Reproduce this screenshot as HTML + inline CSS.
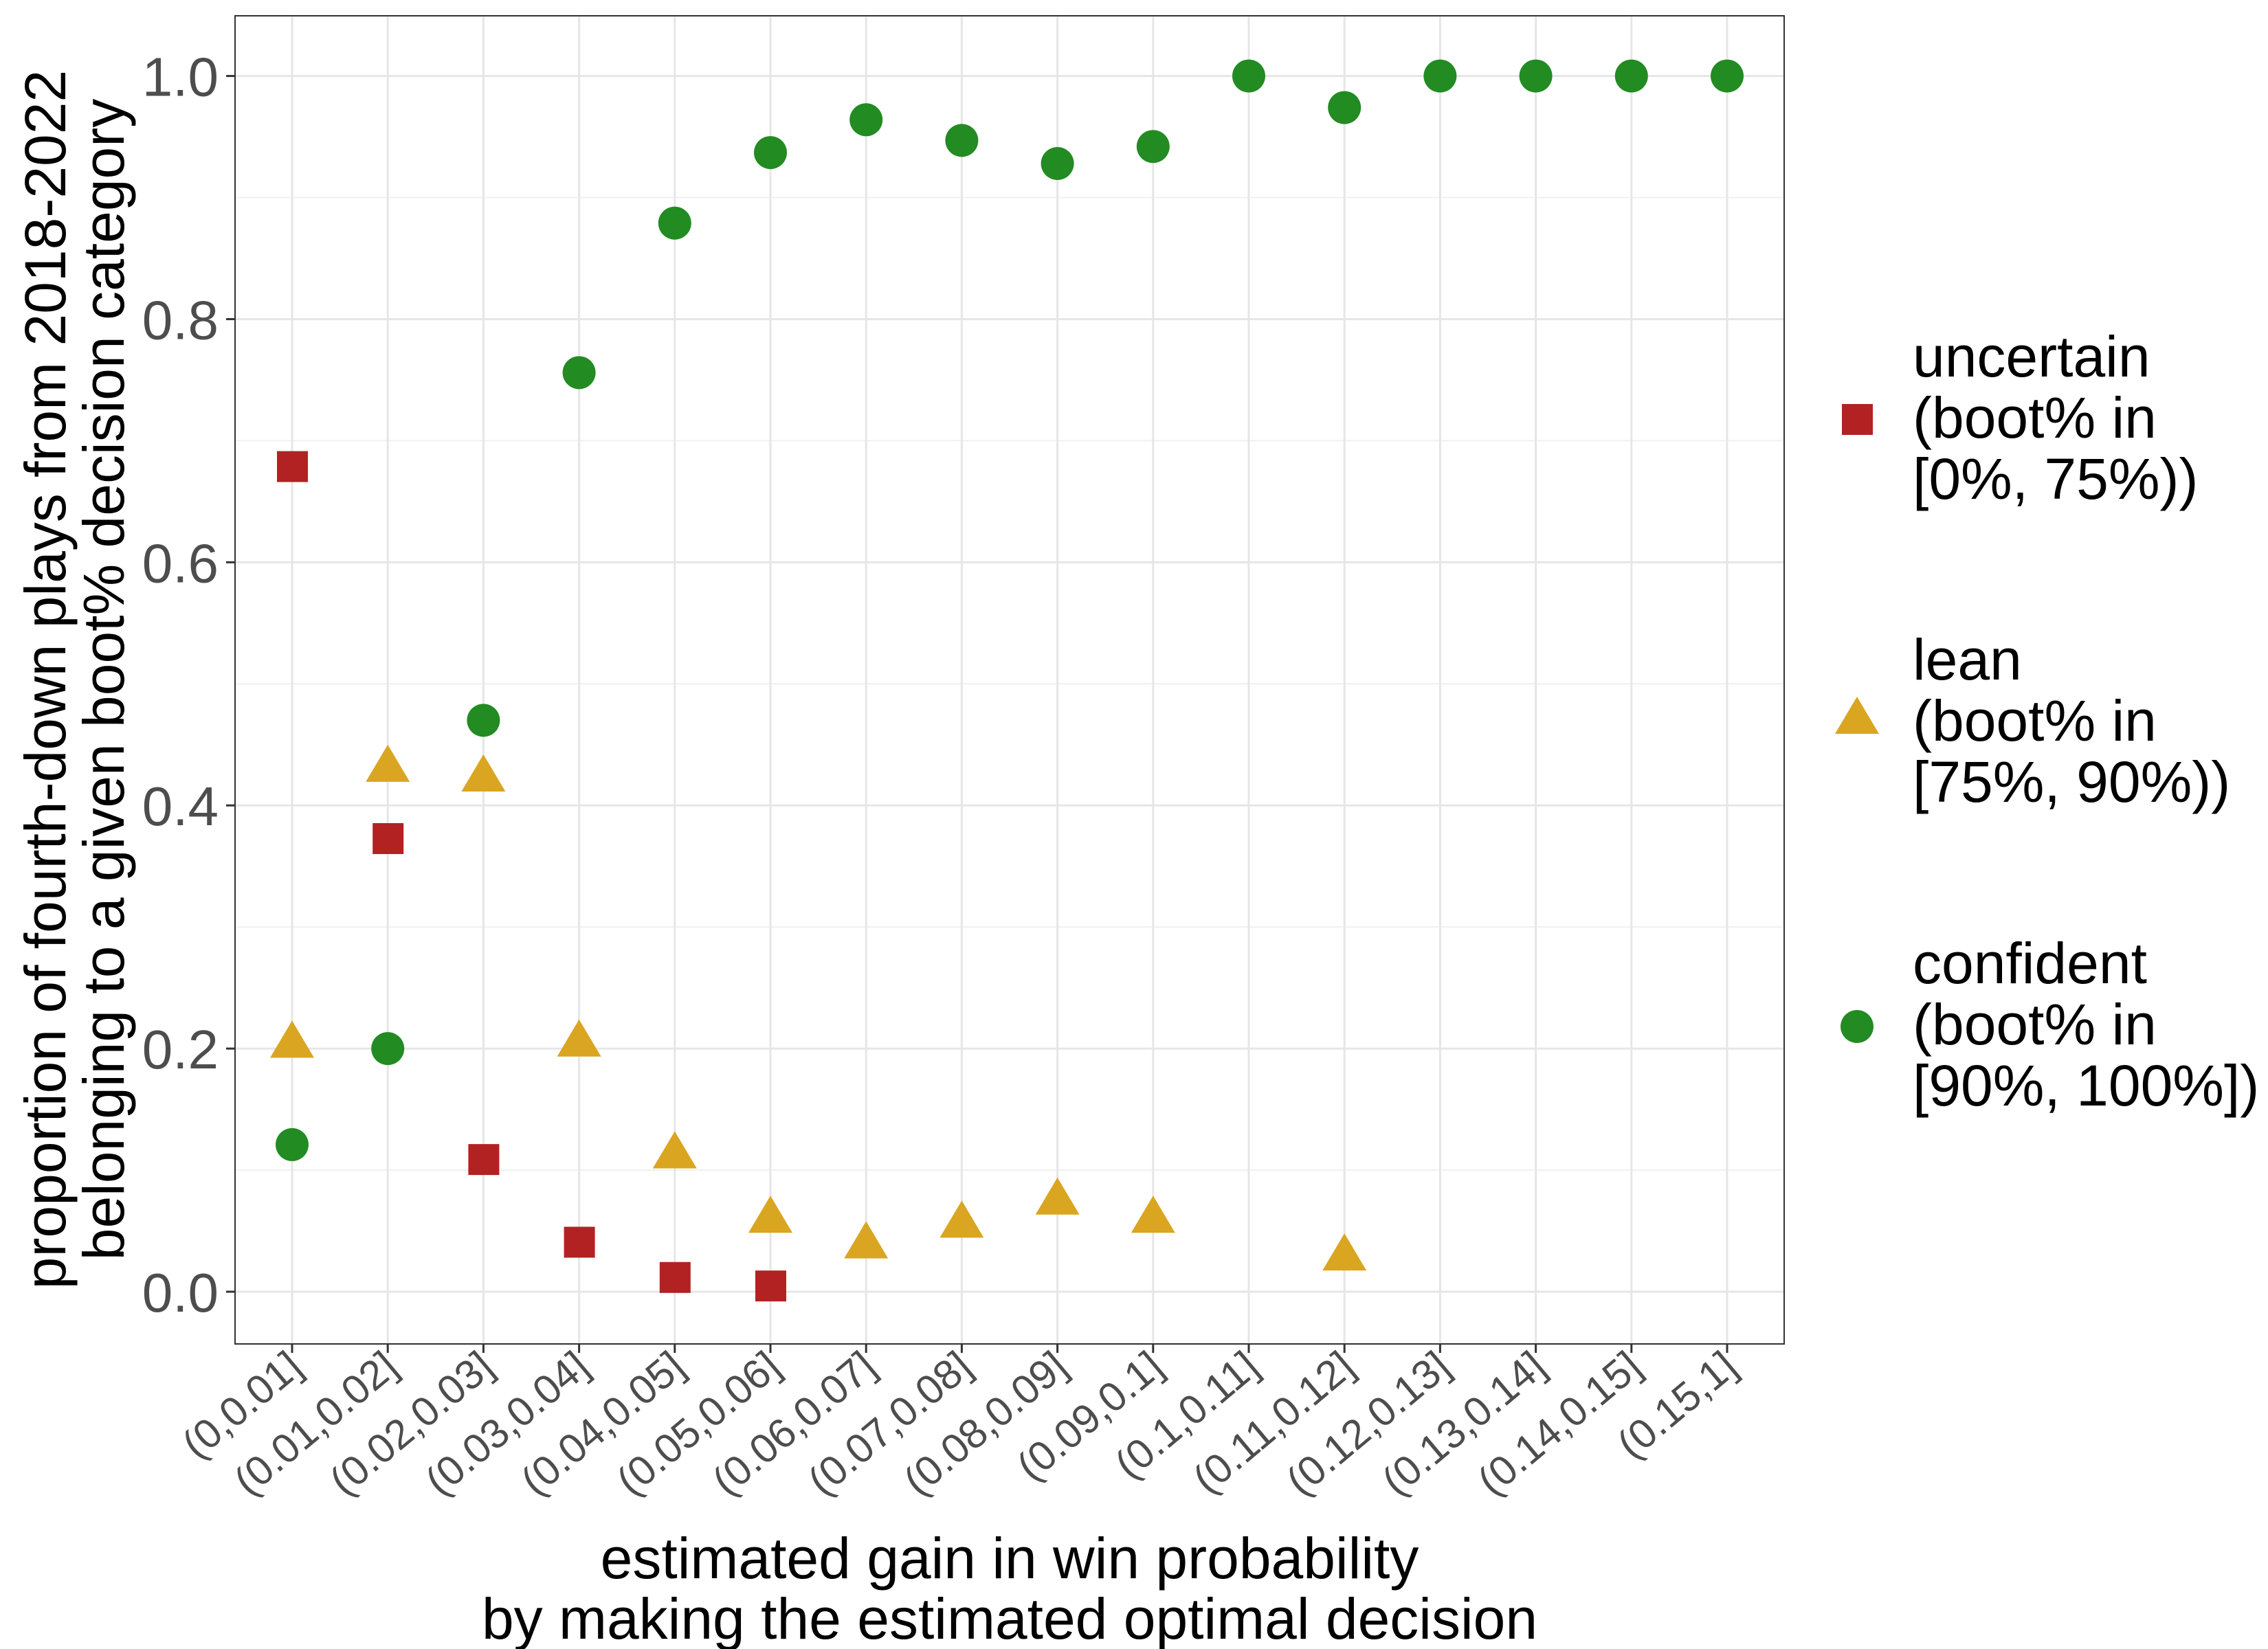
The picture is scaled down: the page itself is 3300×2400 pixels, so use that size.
<!DOCTYPE html>
<html><head><meta charset="utf-8"><style>
html,body{margin:0;padding:0;background:#fff;}
svg{display:block;font-family:"Liberation Sans",Arial,sans-serif;}
</style></head><body>
<svg id="chart" width="3300" height="2400" viewBox="0 0 3300 2400" xmlns="http://www.w3.org/2000/svg">
<rect x="0" y="0" width="3300" height="2400" fill="#fff"/>
<g id="grid"></g>
<g id="ticks"></g>
<g id="marks"></g>
<rect x="342" y="23" width="2254" height="1933" fill="none" stroke="#333" stroke-width="2"/>
<g font-size="84" fill="#000" text-anchor="middle">
<text transform="translate(95,989) rotate(-90)">proportion of fourth-down plays from 2018-2022</text>
<text transform="translate(180,989) rotate(-90)">belonging to a given boot% decision category</text>
</g>
<g font-size="84" fill="#000" text-anchor="middle">
<text x="1469" y="2297">estimated gain in win probability</text>
<text x="1469" y="2385">by making the estimated optimal decision</text>
</g>
<g font-size="84" fill="#000">
<rect x="2680" y="588" width="45" height="45" fill="#b22222"/>
<g>
<text x="2783" y="548">uncertain</text><text x="2783" y="637">(boot% in</text><text x="2783" y="726">[0%, 75%))</text></g>
<polygon points="2702,1014 2734,1068 2670,1068" fill="#daa520"/>
<g>
<text x="2783" y="989">lean</text><text x="2783" y="1078">(boot% in</text><text x="2783" y="1167">[75%, 90%))</text></g>
<circle cx="2702" cy="1494" r="24" fill="#228b22"/>
<g>
<text x="2783" y="1431">confident</text><text x="2783" y="1520">(boot% in</text><text x="2783" y="1609">[90%, 100%])</text></g>
</g>
</svg>
<script>
const categories=["(0,0.01]","(0.01,0.02]","(0.02,0.03]","(0.03,0.04]","(0.04,0.05]","(0.05,0.06]","(0.06,0.07]","(0.07,0.08]","(0.08,0.09]","(0.09,0.1]","(0.1,0.11]","(0.11,0.12]","(0.12,0.13]","(0.13,0.14]","(0.14,0.15]","(0.15,1]"];
const uncertainValues=[0.679,0.373,0.109,0.041,0.012,0.005,null,null,null,null,null,null,null,null,null,null];
const leanValues=[0.206,0.433,0.425,0.207,0.115,0.062,0.041,0.058,0.077,0.062,null,0.031,null,null,null,null];
const confidentValues=[0.121,0.200,0.470,0.756,0.879,0.937,0.964,0.947,0.928,0.942,1.0,0.974,1.0,1.0,1.0,1.0];
const yTicks=[0,0.2,0.4,0.6,0.8,1.0];
const yTickLabels=["0.0","0.2","0.4","0.6","0.8","1.0"];
const yMinor=[0.1,0.3,0.5,0.7,0.9];

const NS="http://www.w3.org/2000/svg";
const X0=425,X1=2513,Y0=1880,Y1=110.6;
function xs(i){return X0+(X1-X0)*i/(categories.length-1);}
function ys(v){return Y0+(Y1-Y0)*v;}
function mk(tag,attrs,parent){const e=document.createElementNS(NS,tag);for(const k in attrs)e.setAttribute(k,attrs[k]);parent.appendChild(e);return e;}
const grid=document.getElementById('grid'),ticks=document.getElementById('ticks'),marks=document.getElementById('marks');
yMinor.forEach(v=>{const l=mk('line',{x1:342,x2:2596,y1:ys(v),y2:ys(v),stroke:'#f0f0f0','stroke-width':2},grid);

});
yTicks.forEach((v,i)=>{const l=mk('line',{x1:342,x2:2596,y1:ys(v),y2:ys(v),stroke:'#e6e6e6','stroke-width':3},grid);


const t=mk('line',{x1:329,x2:342,y1:ys(v),y2:ys(v),stroke:'#333','stroke-width':3},ticks);


const tx=mk('text',{x:318,y:ys(v)+29,'text-anchor':'end','font-size':80,fill:'#4d4d4d'},ticks);tx.textContent=yTickLabels[i];

});
categories.forEach((c,i)=>{const x=xs(i);
const l=mk('line',{x1:x,x2:x,y1:23,y2:1956,stroke:'#e6e6e6','stroke-width':3},grid);


const t=mk('line',{x1:x,x2:x,y1:1956,y2:1969,stroke:'#333','stroke-width':3},ticks);


const tx=mk('text',{'text-anchor':'end','font-size':60,fill:'#4d4d4d',transform:`translate(${x+18},${1995}) rotate(-40)`},ticks);tx.textContent=c;

});
uncertainValues.forEach((v,i)=>{if(v==null)return;const x=xs(i),y=ys(v);
const e=mk('rect',{x:x-22,y:y-22,width:45,height:45,fill:'#b22222'},marks);

});
leanValues.forEach((v,i)=>{if(v==null)return;const x=xs(i),y=ys(v);
const e=mk('polygon',{points:`${x},${y-30} ${x+32},${y+24} ${x-32},${y+24}`,fill:'#daa520'},marks);

});
confidentValues.forEach((v,i)=>{if(v==null)return;
const e=mk('circle',{cx:xs(i),cy:ys(v),r:24,fill:'#228b22'},marks);

});
</script>
</body></html>
